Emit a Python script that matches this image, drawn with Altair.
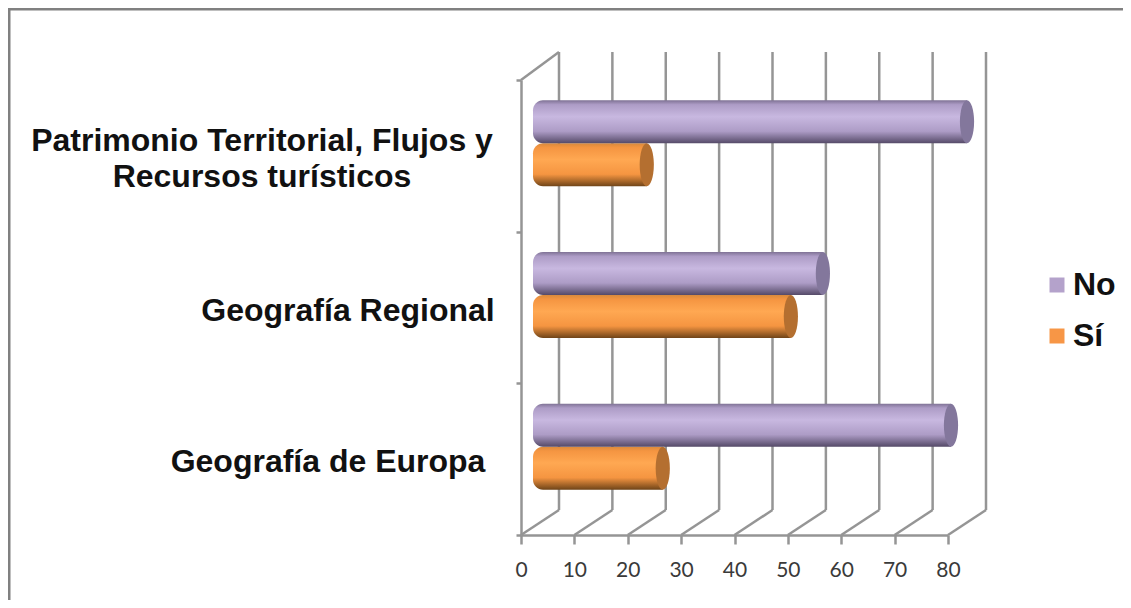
import altair as alt
import pandas as pd

categories = ["Patrimonio Territorial, Flujos y\nRecursos turísticos", "Geografía Regional", "Geografía de Europa"]
no_values = [80, 53, 77]
si_values = [20, 47, 23]
series = ["No", "Sí"]
ticks = [0, 10, 20, 30, 40, 50, 60, 70, 80]

FONT = "Liberation Sans"
GRID = "#959595"
LINE = 2.5
W, H = 427, 455
DX, DY = 38, 28
BAR = 43
BAND = H / 3
MID = BAND / 2 - 12.5

rows = []
for c, n, s in zip(categories, no_values, si_values):
    rows.append({"cat": c, "series": "No", "value": n, "start": 0})
    rows.append({"cat": c, "series": "Sí", "value": s, "start": 0})
df = pd.DataFrame(rows)
tick_df = pd.DataFrame({"v": ticks})
one = alt.Data(values=[{"k": 1}])

x_scale = alt.Scale(domain=[0, 80], nice=False, zero=False)
y_scale = alt.Scale(domain=categories, paddingInner=0, paddingOuter=0)
off_scale = alt.Scale(domain=series, range=[MID - BAR, MID + BAR], paddingInner=0, paddingOuter=0)

x_axis = alt.Axis(values=ticks, title=None, grid=False, format="d", labelFont="Lato", labelFontSize=21,
                  labelColor="#3a3a3a", labelPadding=15, tickSize=9, tickWidth=LINE, tickColor=GRID,
                  domainColor=GRID, domainWidth=LINE, labelFlush=False, labelOverlap=False)
y_axis = alt.Axis(title=None, labels=False, tickBand="extent", tickSize=5, tickWidth=LINE, tickColor=GRID,
                  domainColor=GRID, domainWidth=LINE, grid=False)

X = alt.X("value:Q", scale=x_scale, axis=x_axis)
Y = alt.Y("cat:N", scale=y_scale, sort=categories, axis=y_axis)
OFF = alt.YOffset("series:N", scale=off_scale, sort=series)


def grad(edge_top, light, mid, dark):
    return alt.Gradient(
        gradient="linear", x1=0, x2=0, y1=0, y2=1,
        stops=[
            alt.GradientStop(offset=0, color=edge_top),
            alt.GradientStop(offset=0.1, color=mid),
            alt.GradientStop(offset=0.38, color=light),
            alt.GradientStop(offset=0.72, color=mid),
            alt.GradientStop(offset=1, color=dark),
        ],
    )


styles = {
    "No": (grad("#7f7295", "#c8b8e0", "#ad9cc6", "#554a68"), "#83779c"),
    "Sí": (grad("#d98a3c", "#ffa852", "#f59541", "#6f4418"), "#b46f30"),
}

# Frame of the picture
frame_left = alt.Chart(one).mark_rule(color="#808080", strokeWidth=3).encode(
    x=alt.value(-512), y=alt.value(-71), y2=alt.value(520))
frame_top = alt.Chart(one).mark_rule(color="#808080", strokeWidth=3).encode(
    x=alt.value(-513), x2=alt.value(602), y=alt.value(-71))

# Back wall, floor and side diagonal
wall = alt.Chart(tick_df).mark_rule(color=GRID, strokeWidth=LINE, xOffset=DX).encode(
    x=alt.X("v:Q", scale=x_scale, axis=x_axis),
    y=alt.value(-DY), y2=alt.value(H - 25))
floor = alt.Chart(tick_df).mark_rule(color=GRID, strokeWidth=LINE, x2Offset=DX).encode(
    x=alt.X("v:Q", scale=x_scale, axis=x_axis), x2="v:Q", y=alt.value(H), y2=alt.value(H - 25))
side = alt.Chart(tick_df[tick_df.v == 0]).mark_rule(color=GRID, strokeWidth=LINE, x2Offset=DX).encode(
    x=alt.X("v:Q", scale=x_scale, axis=x_axis), x2="v:Q", y=alt.value(0), y2=alt.value(-DY))

layers = [frame_left, frame_top, wall, floor, side]

# Draw back to front: Sí then No, so that the No bars overlap slightly as in the picture
ellipse = "M0,-1 A0.33,1 0 1 1 0,1 A0.33,1 0 1 1 0,-1 Z"
for s in ["Sí", "No"]:
    body, cap = styles[s]
    sub = df[df.series == s]
    layers.append(alt.Chart(sub).mark_bar(color=body, xOffset=12, x2Offset=DX / 2, cornerRadiusTopLeft=10,
                                          cornerRadiusBottomLeft=10).encode(
        x=alt.X("start:Q", scale=x_scale, axis=x_axis, stack=None), x2="value:Q", y=Y, yOffset=OFF))
    layers.append(alt.Chart(sub).mark_point(shape=ellipse, size=BAR * BAR, filled=True, opacity=1, color=cap,
                                            strokeWidth=0, xOffset=DX / 2).encode(
        x=X, y=Y, yOffset=OFF))

# Category labels
label_pos = {categories[0]: (262, -15), categories[1]: (348, 3), categories[2]: (328, 3)}
for c, (px, dy) in label_pos.items():
    layers.append(alt.Chart(pd.DataFrame({"cat": [c]})).mark_text(
        font=FONT, fontWeight="bold", fontSize=32, color="#111111", align="center", baseline="middle",
        lineBreak="\n", lineHeight=36, dy=dy).encode(
        x=alt.value(px - 521), y=Y, text="cat:N"))

# Legend source
layers.append(alt.Chart(df).mark_point(opacity=0, size=0, filled=True).encode(
    color=alt.Color("series:N", sort=series,
                    scale=alt.Scale(domain=series, range=["#b4a2cb", "#f79646"]),
                    legend=alt.Legend(title=None, orient="none", legendX=520, legendY=189, symbolType="square",
                                      symbolSize=225, symbolOpacity=1, symbolStrokeWidth=0,
                                      labelFont=FONT, labelFontWeight="bold", labelFontSize=32,
                                      labelColor="#111111", rowPadding=19, labelOffset=0, padding=0))))

chart = alt.layer(*layers).properties(
    width=W, height=H,
    padding={"left": 513, "top": 72, "right": 175, "bottom": 65},
    autosize=alt.AutoSizeParams(type="none"),
    background="white",
).configure_view(stroke=None)

chart.save("out.html", embed_options={"renderer": "svg", "actions": False})
